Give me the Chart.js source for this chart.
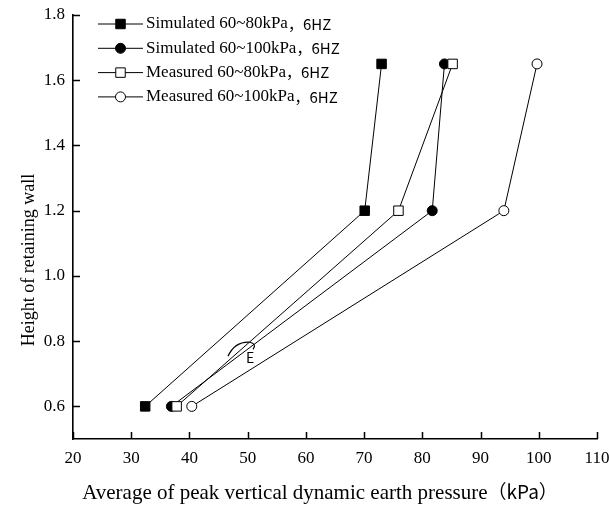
<!DOCTYPE html>
<html>
<head>
<meta charset="utf-8">
<script src="https://cdn.jsdelivr.net/npm/chart.js@4.4.1/dist/chart.umd.min.js"></script>
<style>
  body { margin: 0; background: #fff; }
  canvas { display: block; }
</style>
</head>
<body>
<canvas id="mycanvas" width="609" height="511"></canvas>
<script>
// wall heights at the three gauges (m)
var heights = [0.6, 1.2, 1.65];

// average peak vertical dynamic earth pressure (kPa)
var simulated80 = [32.4, 70.1, 73.0];
var simulated100 = [36.9, 81.7, 83.8];
var measured80 = [37.8, 75.9, 85.2];
var measured100 = [40.4, 94.0, 99.7];

var seriesNames = ['Simulated 60~80kPa', 'Simulated 60~100kPa', 'Measured 60~80kPa', 'Measured 60~100kPa'];
var seriesTail = '，6HZ';

var xTicks = [20, 30, 40, 50, 60, 70, 80, 90, 100, 110];
var yTicks = [0.6, 0.8, 1.0, 1.2, 1.4, 1.6, 1.8];

var xTitle = 'Average of peak vertical dynamic earth pressure';
var xUnit = '（kPa）';
var yTitle = 'Height of retaining wall';

var serif = '"Liberation Serif", "Times New Roman", serif';
var cjk = '"Noto Sans CJK SC", "Noto Sans", sans-serif';

function pts(xs) {
	var out = [];
	for (var i = 0; i < xs.length; i++) {
		out.push({x: xs[i], y: heights[i]});
	}
	return out;
}

function series(label, xs, shape, fill, radius, order) {
	return {
		label: label,
		data: pts(xs),
		borderColor: '#000',
		borderWidth: 1,
		pointStyle: shape,
		pointRadius: radius,
		pointHoverRadius: radius,
		pointBackgroundColor: fill,
		pointBorderColor: '#000',
		pointBorderWidth: 1,
		showLine: true,
		fill: false,
		tension: 0,
		order: order
	};
}

var datasets = [
	series(seriesNames[0], simulated80, 'rect', '#000', 6.7, 4),
	series(seriesNames[1], simulated100, 'circle', '#000', 5, 3),
	series(seriesNames[2], measured80, 'rect', '#fff', 6.7, 2),
	series(seriesNames[3], measured100, 'circle', '#fff', 5, 1)
];

// inward tick marks on both axes
var innerTicks = {
	id: 'innerTicks',
	afterDraw: function(chart) {
		var ctx = chart.ctx;
		var a = chart.chartArea;
		var xs = chart.scales.x, ys = chart.scales.y;
		ctx.save();
		ctx.strokeStyle = '#000';
		ctx.lineWidth = 1.5;
		ctx.beginPath();
		xTicks.forEach(function(v) {
			var px = Math.round(xs.getPixelForValue(v)) + 0.5;
			ctx.moveTo(px, a.bottom);
			ctx.lineTo(px, a.bottom - 7);
		});
		yTicks.forEach(function(v) {
			var py = Math.round(ys.getPixelForValue(v)) + 0.5;
			ctx.moveTo(a.left, py);
			ctx.lineTo(a.left + 7, py);
		});
		ctx.stroke();
		ctx.restore();
	}
};

// axis titles, the unit is set in the CJK face
var axisTitles = {
	id: 'axisTitles',
	afterDraw: function(chart) {
		var ctx = chart.ctx;
		ctx.save();
		ctx.fillStyle = '#000';
		ctx.textBaseline = 'middle';
		ctx.textAlign = 'left';

		ctx.font = '21px ' + serif;
		var w1 = ctx.measureText(xTitle).width;
		ctx.font = '19px ' + cjk;
		var w2 = ctx.measureText(xUnit).width;
		var x0 = 320 - (w1 + w2) / 2;
		ctx.font = '21px ' + serif;
		ctx.fillText(xTitle, x0, 493);
		ctx.font = '19px ' + cjk;
		ctx.fillText(xUnit, x0 + w1, 492);

		ctx.translate(29, 260);
		ctx.rotate(-Math.PI / 2);
		ctx.textAlign = 'center';
		ctx.font = '18px ' + serif;
		ctx.fillText(yTitle, 0, 0);
		ctx.restore();
	}
};

// legend drawn by hand so the frequency tag can use a different font
var legendBox = {
	id: 'legendBox',
	afterDraw: function(chart) {
		var ctx = chart.ctx;
		ctx.save();
		chart.data.datasets.forEach(function(ds, i) {
			var y = 24 + i * 24.3;
			ctx.strokeStyle = '#000';
			ctx.lineWidth = 1;
			ctx.beginPath();
			ctx.moveTo(98, y);
			ctx.lineTo(143, y);
			ctx.stroke();
			ctx.fillStyle = ds.pointBackgroundColor;
			ctx.strokeStyle = '#000';
			Chart.helpers.drawPoint(ctx, {pointStyle: ds.pointStyle, radius: ds.pointRadius, borderWidth: 1, rotation: 0}, 120.5, y);
			ctx.fillStyle = '#000';
			ctx.textBaseline = 'middle';
			ctx.textAlign = 'left';
			ctx.font = '17px ' + serif;
			ctx.fillText(ds.label, 146, y);
			var w = ctx.measureText(ds.label).width;
			ctx.font = '15px ' + cjk;
			ctx.fillText(seriesTail, 146 + w, y);
		});
		ctx.restore();
	}
};

// small stray mark inside the plot
var strayMark = {
	id: 'strayMark',
	afterDatasetsDraw: function(chart) {
		var ctx = chart.ctx;
		var cx = chart.scales.x.getPixelForValue(49.2);
		var cy = chart.scales.y.getPixelForValue(0.769);
		ctx.save();
		ctx.strokeStyle = '#000';
		ctx.lineWidth = 1.2;
		ctx.beginPath();
		ctx.moveTo(cx - 15, cy + 5);
		ctx.quadraticCurveTo(cx - 8, cy - 10, cx + 7, cy - 9);
		ctx.quadraticCurveTo(cx + 14, cy - 7, cx + 10, cy - 2);
		ctx.stroke();
		ctx.fillStyle = '#000';
		ctx.font = '14px ' + cjk;
		ctx.textBaseline = 'middle';
		ctx.fillText('E', cx + 3, cy + 6);
		ctx.restore();
	}
};

var ctx = document.getElementById('mycanvas');

var lineGraph = new Chart(ctx, {
	type: 'scatter',
	data: {datasets: datasets},
	plugins: [innerTicks, axisTitles, legendBox, strayMark],
	options: {
		responsive: false,
		animation: false,
		devicePixelRatio: 1,
		layout: {padding: {top: 15, right: 12, left: 0, bottom: 0}},
		plugins: {
			legend: {display: false},
			tooltip: {enabled: false}
		},
		scales: {
			x: {
				type: 'linear',
				min: 20,
				max: 110,
				afterFit: function(s) {
					s.height = 72;
					s.paddingLeft = 0;
					s.paddingRight = 0;
				},
				afterBuildTicks: function(s) {
					s.ticks = xTicks.map(function(v) { return {value: v}; });
				},
				grid: {display: false, drawTicks: false},
				border: {display: true, color: '#000', width: 1.6},
				ticks: {
					color: '#000',
					padding: 9,
					font: {family: serif, size: 17},
					maxRotation: 0
				}
			},
			y: {
				type: 'linear',
				min: 0.5,
				max: 1.8,
				afterFit: function(s) {
					s.width = 73;
					s.paddingTop = 0;
					s.paddingBottom = 0;
				},
				afterBuildTicks: function(s) {
					s.ticks = yTicks.map(function(v) { return {value: v}; });
				},
				grid: {display: false, drawTicks: false},
				border: {display: true, color: '#000', width: 1.6},
				ticks: {
					color: '#000',
					padding: 8,
					font: {family: serif, size: 17},
					callback: function(v) { return Number(v).toFixed(1); }
				}
			}
		}
	}
});
</script>
</body>
</html>
